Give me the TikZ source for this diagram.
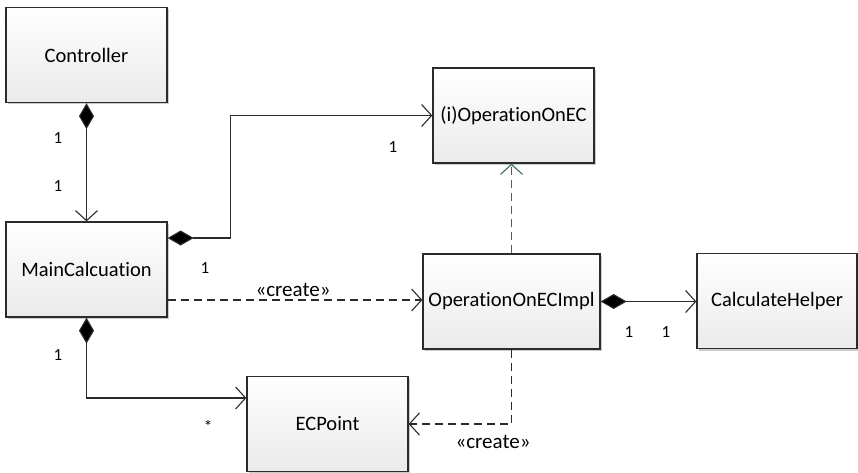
\documentclass[tikz,border=0pt]{standalone}
\usepackage{fontspec}
\setmainfont{Carlito}[Ligatures=NoCommon]
\usetikzlibrary{arrows.meta,calc,shadows}

\definecolor{edgegray}{HTML}{2B2B2B}
\definecolor{realizegreen}{HTML}{3E6B55}

\tikzset{
  classbox/.style={draw=edgegray, line width=1.3pt, top color=white, bottom color=black!8,
    minimum height=95pt, font=\fontsize{20.5}{24}\selectfont, inner sep=0pt,
    drop shadow={shadow xshift=2pt, shadow yshift=-2pt, opacity=0.2, fill=black}},
  comp/.style={draw=edgegray, line width=1.1pt,
    {Diamond[length=26pt,width=15pt,fill=black]}-{Straight Barb[length=10pt,width=22pt,line width=1.1pt]}},
  dep/.style={draw=edgegray, line width=1.1pt, dash pattern=on 8pt off 5pt,
    -{Straight Barb[length=10pt,width=22pt,line width=1.1pt]}},
  realize/.style={draw=realizegreen, line width=1.1pt, dash pattern=on 8pt off 5pt,
    -{Straight Barb[length=10pt,width=22pt,line width=1.1pt]}},
  mult/.style={font=\fontsize{17}{20}\selectfont, inner sep=0pt},
  stereo/.style={font=\fontsize{21}{24}\selectfont, inner sep=0pt},
}

\begin{document}
\begin{tikzpicture}[x=1pt, y=-1pt]
\useasboundingbox (0,0) rectangle (858,473);

% classes
\node[classbox, minimum width=161pt] (ctrl)   at (86.5,55)   {Controller};
\node[classbox, minimum width=161pt] (main)   at (86.5,269.5) {MainCalcuation};
\node[classbox, minimum width=161pt] (iop)    at (513.5,115.5) {(i)OperationOnEC};
\node[classbox, minimum width=177pt] (impl)   at (511.5,301.5) {OperationOnECImpl};
\node[classbox, minimum width=160pt] (helper) at (777,301)   {CalculateHelper};
\node[classbox, minimum width=161pt] (ecp)    at (327.5,424) {ECPoint};

% composition: Controller -> MainCalcuation
\draw[comp] (ctrl.south) -- (main.north);
\node[mult] (m1) at (58,138) {1};
\node[mult] (m2) at (58,186) {1};

% composition: MainCalcuation -> (i)OperationOnEC
\coordinate (mainR) at ($(main.east)+(0,-31.5)$);
\draw[comp] (mainR) -- ++(63,0) |- (iop.west);
\node[mult] (m3) at (205,268) {1};
\node[mult] (m4) at (393,147) {1};

% create dependency: MainCalcuation -> OperationOnECImpl
\coordinate (mainC) at ($(main.east)+(0,30.5)$);
\draw[dep] (mainC) -- (mainC -| impl.west);
\node[stereo] (c1) at (293,290) {«create»};

% realization: OperationOnECImpl -> (i)OperationOnEC
\draw[realize] (impl.north) -- (impl.north |- iop.south);

% composition: OperationOnECImpl -> CalculateHelper
\draw[comp] (impl.east) -- (impl.east -| helper.west);
\node[mult] (m5) at (629,332) {1};
\node[mult] (m6) at (666,332) {1};

% composition: MainCalcuation -> ECPoint
\coordinate (ecpL) at ($(ecp.west)+(0,-26)$);
\draw[comp] (main.south) |- (ecpL);
\node[mult] (m7) at (58,355) {1};
\node[mult] (m8) at (208,426) {*};

% create dependency: OperationOnECImpl -> ECPoint
\draw[dep] (impl.south) |- (ecp.east);
\node[stereo] (c2) at (493,442) {«create»};
\end{tikzpicture}
\end{document}
